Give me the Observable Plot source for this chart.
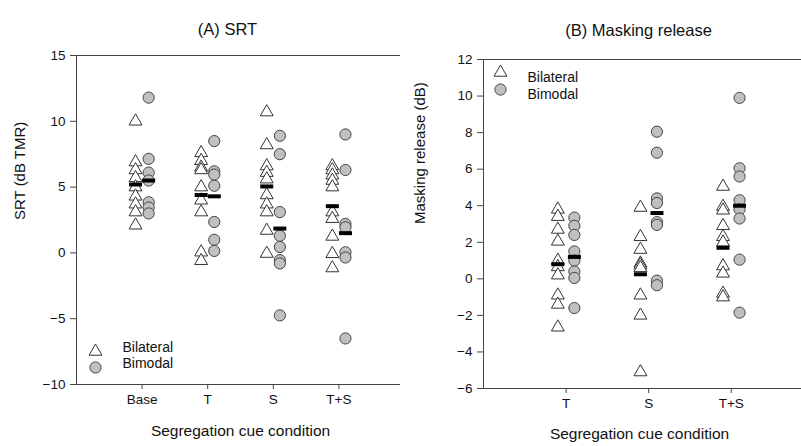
<!DOCTYPE html>
<html><head><meta charset="utf-8">
<script src="https://cdn.jsdelivr.net/npm/d3@7"></script>
<script src="https://cdn.jsdelivr.net/npm/@observablehq/plot@0.6"></script>
<style>
html,body{margin:0;padding:0;background:#fff;}
#wrap{position:relative;width:801px;height:446px;overflow:hidden;}
#wrap svg{position:absolute;top:0;}
</style></head><body><div id="wrap"></div>
<script>
// ---------- Panel A: SRT ----------
const conditionsA = ["Base", "T", "S", "T+S"];
const srtTicks = [-10, -5, 0, 5, 10, 15];
const srtBilateral = [
  [10.0, 6.9, 6.3, 5.7, 5.0, 4.3, 3.7, 3.1, 2.1],
  [7.6, 7.0, 6.5, 6.3, 5.0, 4.0, 3.1, 0.05, -0.6],
  [10.7, 8.2, 6.6, 6.1, 5.6, 4.4, 3.7, 3.1, 1.7, -0.05],
  [6.6, 6.3, 5.9, 5.5, 5.0, 3.1, 2.6, 1.25, -0.07, -1.15]
];
const srtBimodal = [
  [11.8, 7.15, 6.1, 5.5, 3.85, 3.45, 3.0],
  [8.5, 6.2, 5.95, 5.1, 2.35, 1.0, 0.15],
  [8.9, 7.5, 3.1, 1.3, 0.45, -0.55, -0.8, -4.75],
  [9.0, 6.3, 2.2, 1.95, 0.05, -0.35, -6.5]
];
const srtMeanBilateral = [5.2, 4.4, 5.05, 3.55];
const srtMeanBimodal = [5.5, 4.3, 1.85, 1.5];

// ---------- Panel B: Masking release ----------
const conditionsB = ["T", "S", "T+S"];
const mrTicks = [-6, -4, -2, 0, 2, 4, 6, 8, 10, 12];
const mrBilateral = [
  [3.8, 3.4, 2.7, 2.05, 1.0, 0.65, 0.2, -0.9, -1.4, -2.65],
  [3.9, 2.3, 1.6, 0.85, 0.75, 0.6, -0.9, -2.0, -5.1],
  [5.05, 3.95, 3.75, 2.9, 2.3, 2.0, 0.7, 0.3, -0.8, -1.0]
];
const mrBimodal = [
  [3.35, 2.9, 2.4, 1.5, 1.0, 0.4, 0.05, -1.6],
  [8.05, 6.9, 4.4, 4.15, 3.1, 2.95, -0.1, -0.35],
  [9.9, 6.05, 5.6, 4.3, 3.8, 3.3, 1.05, -1.85]
];
const mrMeanBilateral = [0.8, 0.25, 1.7];
const mrMeanBimodal = [1.2, 3.6, 4.0];

const groups = ["Bilateral", "Bimodal"];

function rows(bil, bim) {
  const out = [];
  bil.forEach((vals, i) => vals.forEach(v => out.push({pos: i + 1, group: "Bilateral", v})));
  bim.forEach((vals, i) => vals.forEach(v => out.push({pos: i + 1, group: "Bimodal", v})));
  return out;
}
function meanRows(bil, bim) {
  return [
    ...bil.map((v, i) => ({pos: i + 1, group: "Bilateral", v})),
    ...bim.map((v, i) => ({pos: i + 1, group: "Bimodal", v}))
  ];
}

const FONT = "'Liberation Sans', Arial, sans-serif";
const dodge = 0.1;
const barSymbol = {draw(ctx) { ctx.rect(-6.5, -2, 13, 4); }};
const triStyle = {symbol: "triangle", r: 4.8, fill: "white", stroke: "#333", strokeWidth: 1};
const cirStyle = {symbol: "circle", r: 5.6, fill: "#c0c0c0", stroke: "#444", strokeWidth: 1};

function panel(o) {
  const data = rows(o.bil, o.bim);
  const means = meanRows(o.meanBil, o.meanBim);
  return Plot.plot({
    width: o.width, height: 446,
    marginLeft: o.ml, marginRight: o.mr, marginTop: o.mt, marginBottom: o.mb,
    style: {fontFamily: FONT, fontSize: "13.5px", color: "#111", background: "white", overflow: "visible"},
    x: {domain: o.xdom, axis: null},
    y: {domain: o.ydom, axis: null},
    marks: [
      Plot.frame({stroke: "#444"}),
      Plot.axisX({ticks: o.cats.map((c, i) => i + 1), tickFormat: d => o.cats[d - 1], tickSize: 5, tickPadding: 5, label: null, stroke: "#444", fontSize: 13.5}),
      Plot.axisY({ticks: o.yticks, tickSize: 6, tickPadding: 5, label: null, stroke: "#444", fontSize: 13.5}),
      Plot.dot(data.filter(d => d.group === groups[0]), {x: d => d.pos - dodge, y: "v", ...triStyle}),
      Plot.dot(data.filter(d => d.group === groups[1]), {x: d => d.pos + dodge, y: "v", ...cirStyle}),
      Plot.dot(means, {x: d => d.pos + (d.group === "Bilateral" ? -dodge : dodge), y: "v", symbol: barSymbol, fill: "black", stroke: "none"}),
      // legend
      Plot.dot([groups[0]], {frameAnchor: o.legAnchor, dx: o.legDx, dy: o.legDy1, ...triStyle}),
      Plot.dot([groups[1]], {frameAnchor: o.legAnchor, dx: o.legDx, dy: o.legDy2, ...cirStyle}),
      Plot.text([groups[0]], {text: d => d, frameAnchor: o.legAnchor, dx: o.legDx + 27, dy: o.legDy1, textAnchor: "start", fontSize: 14, fill: "#111"}),
      Plot.text([groups[1]], {text: d => d, frameAnchor: o.legAnchor, dx: o.legDx + 27, dy: o.legDy2, textAnchor: "start", fontSize: 14, fill: "#111"}),
      // titles & labels
      Plot.text([o.title], {text: d => d, frameAnchor: "top", dx: o.titleDx, dy: o.titleDy, fontSize: 16.5, fill: "#111"}),
      Plot.text([o.xlabel], {text: d => d, frameAnchor: "bottom", dx: o.xlDx, dy: o.xlDy, fontSize: 15.5, fill: "#111"}),
      Plot.text([o.ylabel], {text: d => d, frameAnchor: "left", dx: o.ylDx, rotate: -90, fontSize: 15, fill: "#111"})
    ]
  });
}

const wrap = document.getElementById("wrap");
const a = panel({
  width: 410, ml: 76, mr: 6, mt: 55, mb: 62,
  xdom: [0, 5], ydom: [-10, 15], cats: conditionsA, yticks: srtTicks,
  bil: srtBilateral, bim: srtBimodal, meanBil: srtMeanBilateral, meanBim: srtMeanBimodal,
  legAnchor: "bottom-left", legDx: 19, legDy1: -33, legDy2: -17,
  title: "(A) SRT", titleDx: -13, titleDy: -32,
  xlabel: "Segregation cue condition", xlDx: 0, xlDy: 51,
  ylabel: "SRT (dB TMR)", ylDx: -56
});
a.style.left = "0px";
const b = panel({
  width: 403, ml: 83, mr: 2, mt: 59, mb: 58,
  xdom: [0, 3.85], ydom: [-6, 12], cats: conditionsB, yticks: mrTicks,
  bil: mrBilateral, bim: mrBimodal, meanBil: mrMeanBilateral, meanBim: mrMeanBimodal,
  legAnchor: "top-left", legDx: 17, legDy1: 13, legDy2: 30,
  title: "(B) Masking release", titleDx: -4, titleDy: -35,
  xlabel: "Segregation cue condition", xlDx: -3, xlDy: 50,
  ylabel: "Masking release (dB)", ylDx: -63
});
b.style.left = "400px";
wrap.appendChild(a);
wrap.appendChild(b);
</script>
</body></html>
